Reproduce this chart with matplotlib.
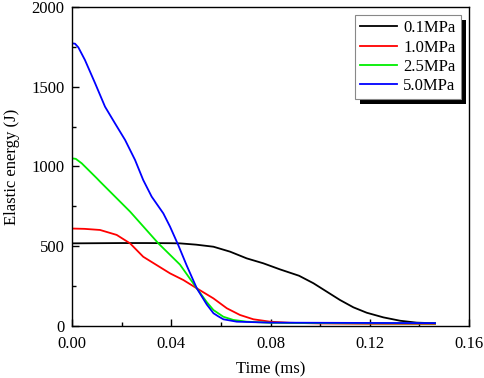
import matplotlib
matplotlib.use("Agg")
import matplotlib.pyplot as plt
from matplotlib.patches import Rectangle

plt.rcParams["font.family"] = ["Liberation Serif", "DejaVu Serif"]
plt.rcParams["font.size"] = 12

# time (ms) and elastic energy (J)
t_01 = [0.0, 0.01, 0.02, 0.03, 0.04, 0.0435, 0.05, 0.057, 0.0637, 0.0704, 0.0771,
        0.0838, 0.0915, 0.0973, 0.1027, 0.108, 0.1134, 0.1188, 0.1255, 0.1322,
        0.1389, 0.1463]
e_01 = [518, 519, 520, 520, 519, 518, 510, 497, 466, 424, 393,
        355, 315, 268, 215, 163, 117, 83, 54, 33,
        21, 17]

t_10 = [0.0, 0.005, 0.0113, 0.018, 0.0234, 0.0287, 0.0341, 0.0395, 0.0449, 0.0503,
        0.057, 0.0624, 0.0677, 0.0731, 0.0798, 0.0879, 0.1, 0.12, 0.1463]
e_10 = [611, 609, 602, 571, 518, 434, 382, 330, 288, 236,
        173, 111, 69, 42, 27, 20, 16, 14, 13]

t_25 = [0.0, 0.0015, 0.0039, 0.01, 0.0113, 0.0234, 0.0348, 0.0435, 0.0476, 0.0503,
        0.0543, 0.057, 0.061, 0.065, 0.0704, 0.08, 0.1, 0.12, 0.1463]
e_25 = [1051, 1048, 1020, 926, 905, 717, 518, 385, 295, 236,
        150, 100, 58, 38, 27, 20, 18, 17, 16]

t_50 = [0.0, 0.0012, 0.00254, 0.0052, 0.0093, 0.0133, 0.0173, 0.0214, 0.0254,
        0.0287, 0.0321, 0.0368, 0.0395, 0.0428, 0.0462, 0.0503, 0.0543, 0.057,
        0.059, 0.061, 0.0664, 0.08, 0.1, 0.12, 0.1463]
e_50 = [1772, 1770, 1747, 1668, 1522, 1375, 1271, 1166, 1041,
        915, 811, 706, 623, 508, 380, 236, 135, 80,
        60, 42, 27, 21, 20, 19, 18]

labels = ["0.1MPa", "1.0MPa", "2.5MPa", "5.0MPa"]
colors = ["#000000", "#ff0000", "#00ee00", "#0000ff"]

fig = plt.figure(figsize=(4.84, 3.78), dpi=100)
ax = fig.add_axes([0.1488, 0.1376, 0.8202, 0.8439])

series = [(t_01, e_01), (t_10, e_10), (t_25, e_25), (t_50, e_50)]
for (t, e), lab, c in zip(series, labels, colors):
    ax.plot(t, e, color=c, lw=1.3, label=lab)

ax.set_xlim(0, 0.16)
ax.set_ylim(0, 2000)
ax.set_xticks([0.0, 0.04, 0.08, 0.12, 0.16])
ax.set_xticklabels(["0.00", "0.04", "0.08", "0.12", "0.16"])
ax.set_yticks([0, 500, 1000, 1500, 2000])
ax.set_xticks([0.02, 0.06, 0.10, 0.14], minor=True)
ax.set_yticks([250, 750, 1250, 1750], minor=True)
ax.tick_params(which="both", direction="in", top=False, right=False, labelsize=12)
ax.tick_params(which="major", length=5, width=1)
ax.tick_params(which="minor", length=3, width=1)
ax.tick_params(axis="x", pad=7)
ax.tick_params(axis="y", pad=5.5)
for s in ax.spines.values():
    s.set_linewidth(1)

ax.set_xlabel("Time (ms)", fontsize=12, labelpad=7)
ax.set_ylabel("Elastic energy (J)", fontsize=12, labelpad=8)

leg = ax.legend(loc="upper right", fancybox=False, framealpha=1,
                edgecolor="#888888", fontsize=12, handlelength=2.2,
                labelspacing=0.2, borderpad=0.3, handletextpad=0.4,
                borderaxespad=0.5)
leg.get_frame().set_linewidth(0.8)

# hard black drop shadow behind the legend box
fig.canvas.draw()
bb = leg.get_window_extent()
shadow = Rectangle((bb.x0 + 5, bb.y0 - 5), bb.width, bb.height, transform=None,
                   facecolor="black", edgecolor="none", zorder=4.9)
ax.add_patch(shadow)

fig.savefig("out.png", dpi=100)
